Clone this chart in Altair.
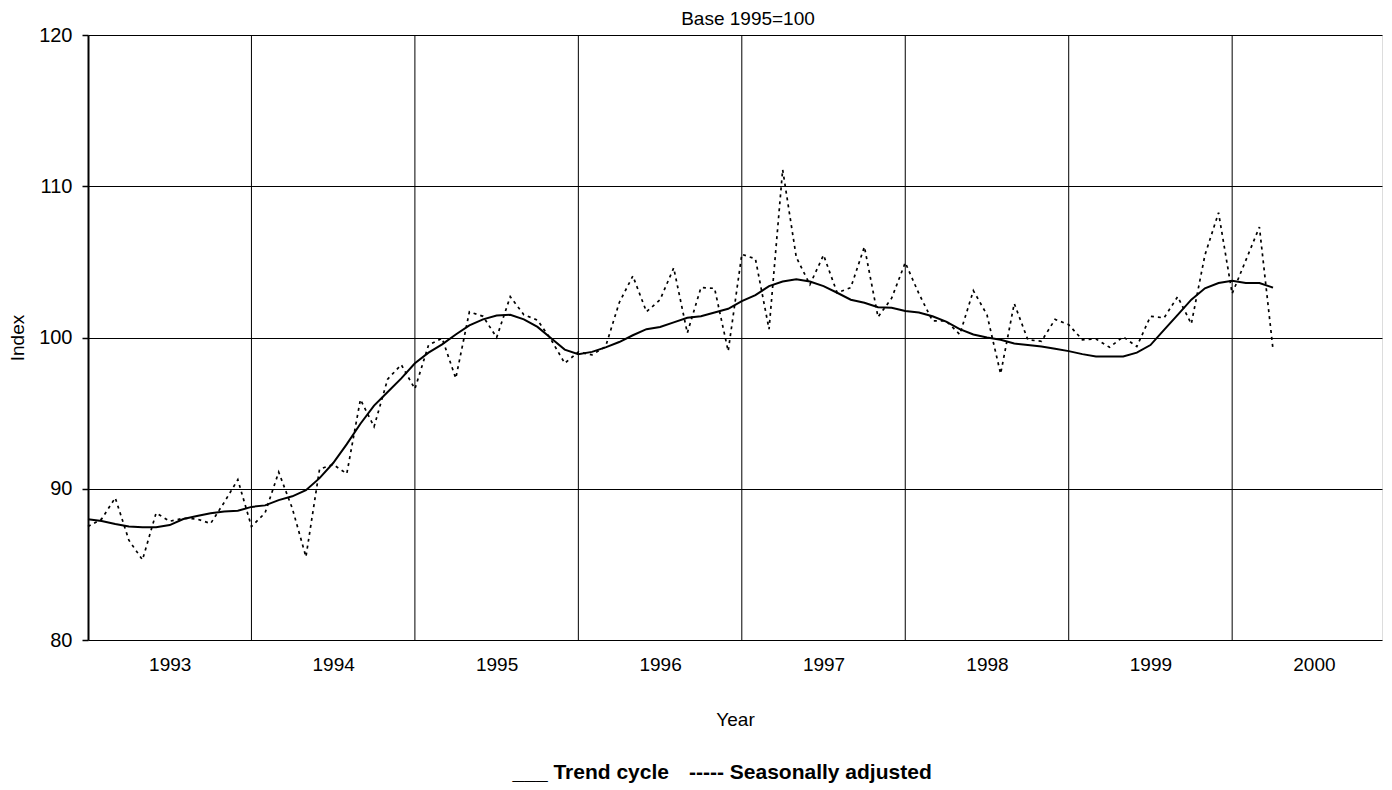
import altair as alt
import pandas as pd

# ---- data (monthly, Jan 1993 .. Apr 2000) ----
years = [1993, 1994, 1995, 1996, 1997, 1998, 1999, 2000]
trend_cycle = [
    87.98, 87.87, 87.67, 87.5, 87.45, 87.45, 87.6, 88.0, 88.2, 88.38, 88.5, 88.55,
    88.8, 88.9, 89.25, 89.5, 89.9, 90.7, 91.7, 92.95, 94.3, 95.5, 96.4, 97.3,
    98.3, 99.0, 99.55, 100.2, 100.8, 101.2, 101.45, 101.5, 101.2, 100.7, 99.95, 99.2,
    98.9, 99.05, 99.35, 99.7, 100.15, 100.55, 100.7, 101.0, 101.3, 101.4, 101.65, 101.9,
    102.4, 102.8, 103.4, 103.7, 103.85, 103.7, 103.4, 102.96, 102.5, 102.3, 102.0, 101.97,
    101.75, 101.65, 101.4, 101.05, 100.55, 100.2, 100.0, 99.85, 99.6, 99.5, 99.4, 99.25,
    99.1, 98.9, 98.75, 98.75, 98.75, 99.0, 99.5, 100.5, 101.5, 102.5, 103.25, 103.6,
    103.75, 103.6, 103.6, 103.3,
]
seasonally_adjusted = [
    87.5, 88.0, 89.4, 86.6, 85.3, 88.4, 87.85, 88.05, 88.0, 87.7, 89.1, 90.6,
    87.5, 88.4, 91.1, 88.7, 85.5, 91.3, 91.6, 91.0, 95.9, 94.1, 97.25, 98.2,
    96.6, 99.5, 99.95, 97.3, 101.7, 101.4, 100.0, 102.7, 101.5, 101.15, 99.85, 98.3,
    99.05, 98.85, 99.4, 102.3, 104.07, 101.7, 102.5, 104.6, 100.3, 103.3, 103.25, 99.1,
    105.5, 105.2, 100.55, 111.1, 105.3, 103.5, 105.45, 102.95, 103.3, 106.0, 101.35, 102.6,
    104.95, 102.9, 101.1, 101.1, 100.2, 103.1, 101.5, 97.6, 102.25, 99.85, 99.75, 101.2,
    100.85, 99.85, 99.9, 99.35, 100.05, 99.4, 101.4, 101.3, 102.7, 100.9, 105.45, 108.25,
    102.9, 105.1, 107.3, 99.2,
]
y_ticks = [80, 90, 100, 110, 120]
title_text = ["Base 1995=100"]
legend_trend = ["___ Trend cycle"]
legend_sa = ["----- Seasonally adjusted"]

months = list(range(len(trend_cycle)))
label_pos = [6 + 12 * k for k in range(len(years))]
grid_pos = [12 * k for k in range(1, len(years))]
label_map = "{" + ",".join(f"'{p}':'{y}'" for p, y in zip(label_pos, years)) + "}"

df_trend = pd.DataFrame({"m": months, "v": trend_cycle})
df_sa = pd.DataFrame({"m": months, "v": seasonally_adjusted})
df_grid = pd.DataFrame({"g": grid_pos})

FONT = "Liberation Sans"

xscale = alt.Scale(domain=[0, 95], nice=False, zero=False)
yscale = alt.Scale(domain=[80, 120], nice=False, zero=False)

x_axis = alt.Axis(values=label_pos, labelExpr=f"{label_map}[''+datum.value]",
                  grid=False, ticks=False, tickSize=0, domain=False,
                  labelPadding=15, labelFontSize=19, labelFont=FONT, labelColor="black",
                  title="Year", titlePadding=36, titleFontSize=19, titleFont=FONT,
                  titleFontWeight="normal", titleColor="black")
y_axis = alt.Axis(values=y_ticks, grid=True, gridColor="black", gridOpacity=1,
                  gridWidth=1, ticks=True, tickSize=6, tickColor="black", tickWidth=1.5,
                  domain=True, domainColor="black", domainWidth=2,
                  labelPadding=10, labelFontSize=20, labelFont=FONT, labelColor="black",
                  title="Index", titlePadding=11, titleFontSize=19, titleFont=FONT,
                  titleFontWeight="normal", titleColor="black")

x_enc = alt.X("m:Q", scale=xscale, axis=x_axis)
y_enc = alt.Y("v:Q", scale=yscale, axis=y_axis)

grid = alt.Chart(df_grid).mark_rule(color="black", strokeWidth=1).encode(
    x=alt.X("g:Q", scale=xscale, axis=x_axis)
)

sa_line = alt.Chart(df_sa).mark_line(
    color="black", strokeWidth=1.7, strokeDash=[3, 4]
).encode(x=x_enc, y=y_enc)

trend_line = alt.Chart(df_trend).mark_line(
    color="black", strokeWidth=2
).encode(x=x_enc, y=y_enc)

title_mark = alt.Chart(pd.DataFrame({"t": title_text})).mark_text(
    font=FONT, fontSize=19, color="black", align="center", baseline="middle"
).encode(text="t:N", x=alt.value(660), y=alt.value(-16))

leg1 = alt.Chart(pd.DataFrame({"t": legend_trend})).mark_text(
    font=FONT, fontSize=21, fontWeight="bold", color="black", align="right", baseline="middle"
).encode(text="t:N", x=alt.value(581), y=alt.value(738))

leg2 = alt.Chart(pd.DataFrame({"t": legend_sa})).mark_text(
    font=FONT, fontSize=21, fontWeight="bold", color="black", align="left", baseline="middle"
).encode(text="t:N", x=alt.value(601), y=alt.value(738))

chart = alt.layer(grid, sa_line, trend_line, title_mark, leg1, leg2).properties(
    width=1294, height=605,
    autosize=alt.AutoSizeParams(type="none"),
    padding={"left": 80, "top": 27, "right": 2, "bottom": 145},
).configure_view(
    stroke="black", strokeWidth=2
).configure(background="white")

chart.save("out.html", embed_options={"renderer": "svg", "actions": False})
